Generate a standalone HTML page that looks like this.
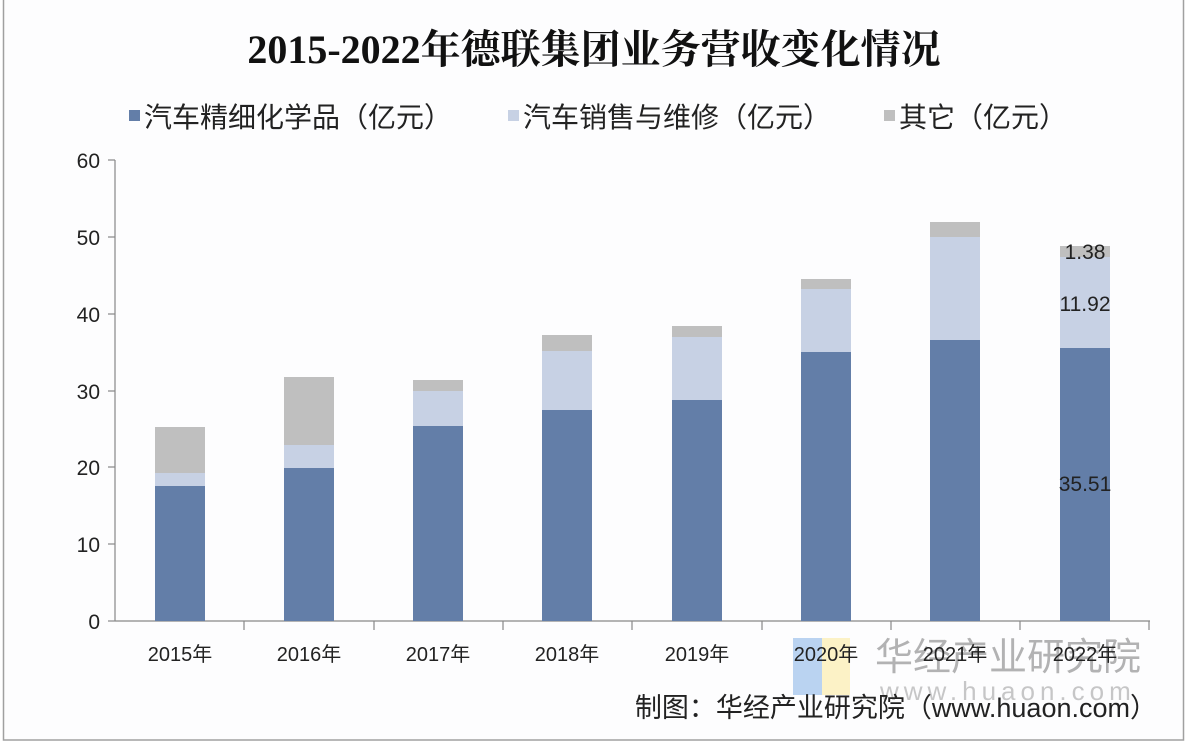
<!DOCTYPE html>
<html><head><meta charset="utf-8"><style>
body{margin:0;background:#fff;}
svg{display:block;}
text{font-family:"Liberation Sans","Noto Sans CJK SC",sans-serif;}
</style></head><body>
<svg width="1188" height="746" viewBox="0 0 1188 746">
<rect x="0" y="0" width="1188" height="746" fill="#fff"/>
<rect x="3.5" y="-2" width="1180" height="742" fill="#fdfdfe" stroke="#a0a0a0" stroke-width="1.5"/>
<text x="594" y="63" text-anchor="middle" font-size="40" font-weight="bold" style="font-family:'Liberation Serif','Noto Serif CJK SC',serif" fill="#111">2015-2022年德联集团业务营收变化情况</text>
<rect x="129" y="110" width="11" height="11" fill="#637ea8"/>
<text x="144" y="127" font-size="28" fill="#222">汽车精细化学品（亿元）</text>
<rect x="508" y="110" width="11" height="11" fill="#c7d1e4"/>
<text x="523" y="127" font-size="28" fill="#222">汽车销售与维修（亿元）</text>
<rect x="884" y="110" width="11" height="11" fill="#bfbfbf"/>
<text x="899" y="127" font-size="28" fill="#222">其它（亿元）</text>
<g stroke="#888" stroke-width="1.2">
<line x1="115" y1="160" x2="115" y2="621"/>
<line x1="115" y1="621" x2="1150" y2="621"/>
<line x1="108" y1="160" x2="115" y2="160"/><line x1="108" y1="237" x2="115" y2="237"/><line x1="108" y1="314" x2="115" y2="314"/><line x1="108" y1="391" x2="115" y2="391"/><line x1="108" y1="467" x2="115" y2="467"/><line x1="108" y1="544" x2="115" y2="544"/><line x1="108" y1="621" x2="115" y2="621"/>
<line x1="244" y1="621" x2="244" y2="630"/><line x1="374" y1="621" x2="374" y2="630"/><line x1="503" y1="621" x2="503" y2="630"/><line x1="632" y1="621" x2="632" y2="630"/><line x1="762" y1="621" x2="762" y2="630"/><line x1="891" y1="621" x2="891" y2="630"/><line x1="1020" y1="621" x2="1020" y2="630"/><line x1="1149" y1="621" x2="1149" y2="630"/>
</g>
<g font-size="21" fill="#222" text-anchor="end">
<text x="100" y="168">60</text><text x="100" y="245">50</text><text x="100" y="322">40</text><text x="100" y="399">30</text><text x="100" y="475">20</text><text x="100" y="552">10</text><text x="100" y="629">0</text>
</g>
<g>
<rect x="155" y="486" width="50" height="135" fill="#637ea8"/><rect x="155" y="473" width="50" height="13" fill="#c7d1e4"/><rect x="155" y="427" width="50" height="46" fill="#bfbfbf"/>
<rect x="284" y="468" width="50" height="153" fill="#637ea8"/><rect x="284" y="445" width="50" height="23" fill="#c7d1e4"/><rect x="284" y="377" width="50" height="68" fill="#bfbfbf"/>
<rect x="413" y="426" width="50" height="195" fill="#637ea8"/><rect x="413" y="391" width="50" height="35" fill="#c7d1e4"/><rect x="413" y="380" width="50" height="11" fill="#bfbfbf"/>
<rect x="542" y="410" width="50" height="211" fill="#637ea8"/><rect x="542" y="351" width="50" height="59" fill="#c7d1e4"/><rect x="542" y="335" width="50" height="16" fill="#bfbfbf"/>
<rect x="672" y="400" width="50" height="221" fill="#637ea8"/><rect x="672" y="337" width="50" height="63" fill="#c7d1e4"/><rect x="672" y="326" width="50" height="11" fill="#bfbfbf"/>
<rect x="801" y="352" width="50" height="269" fill="#637ea8"/><rect x="801" y="289" width="50" height="63" fill="#c7d1e4"/><rect x="801" y="279" width="50" height="10" fill="#bfbfbf"/>
<rect x="930" y="340" width="50" height="281" fill="#637ea8"/><rect x="930" y="237" width="50" height="103" fill="#c7d1e4"/><rect x="930" y="222" width="50" height="15" fill="#bfbfbf"/>
<rect x="1060" y="348" width="50" height="273" fill="#637ea8"/><rect x="1060" y="257" width="50" height="91" fill="#c7d1e4"/><rect x="1060" y="246" width="50" height="11" fill="#bfbfbf"/>
</g>
<g font-size="21" fill="#222" text-anchor="middle">
<text x="1085" y="259">1.38</text><text x="1085" y="311">11.92</text><text x="1085" y="491">35.51</text>
</g>
<rect x="793" y="638" width="29" height="57" fill="#a9c8ee" opacity="0.8"/>
<rect x="822" y="638" width="28" height="57" fill="#fbefb8" opacity="0.8"/>
<text x="875" y="670" font-size="38" fill="#9a9a9a" opacity="0.75">华经产业研究院</text>
<text x="880" y="700" font-size="26" fill="#b0b0b0" opacity="0.7" letter-spacing="5">www.huaon.com</text>
<g font-size="20" fill="#222" text-anchor="middle">
<text x="180" y="661">2015年</text><text x="309" y="661">2016年</text><text x="438" y="661">2017年</text><text x="567" y="661">2018年</text><text x="697" y="661">2019年</text><text x="826" y="661">2020年</text><text x="955" y="661">2021年</text><text x="1085" y="661">2022年</text>
</g>
<text x="1157" y="717" text-anchor="end" font-size="27" fill="#222">制图：华经产业研究院（www.huaon.com）</text>
</svg>
</body></html>
